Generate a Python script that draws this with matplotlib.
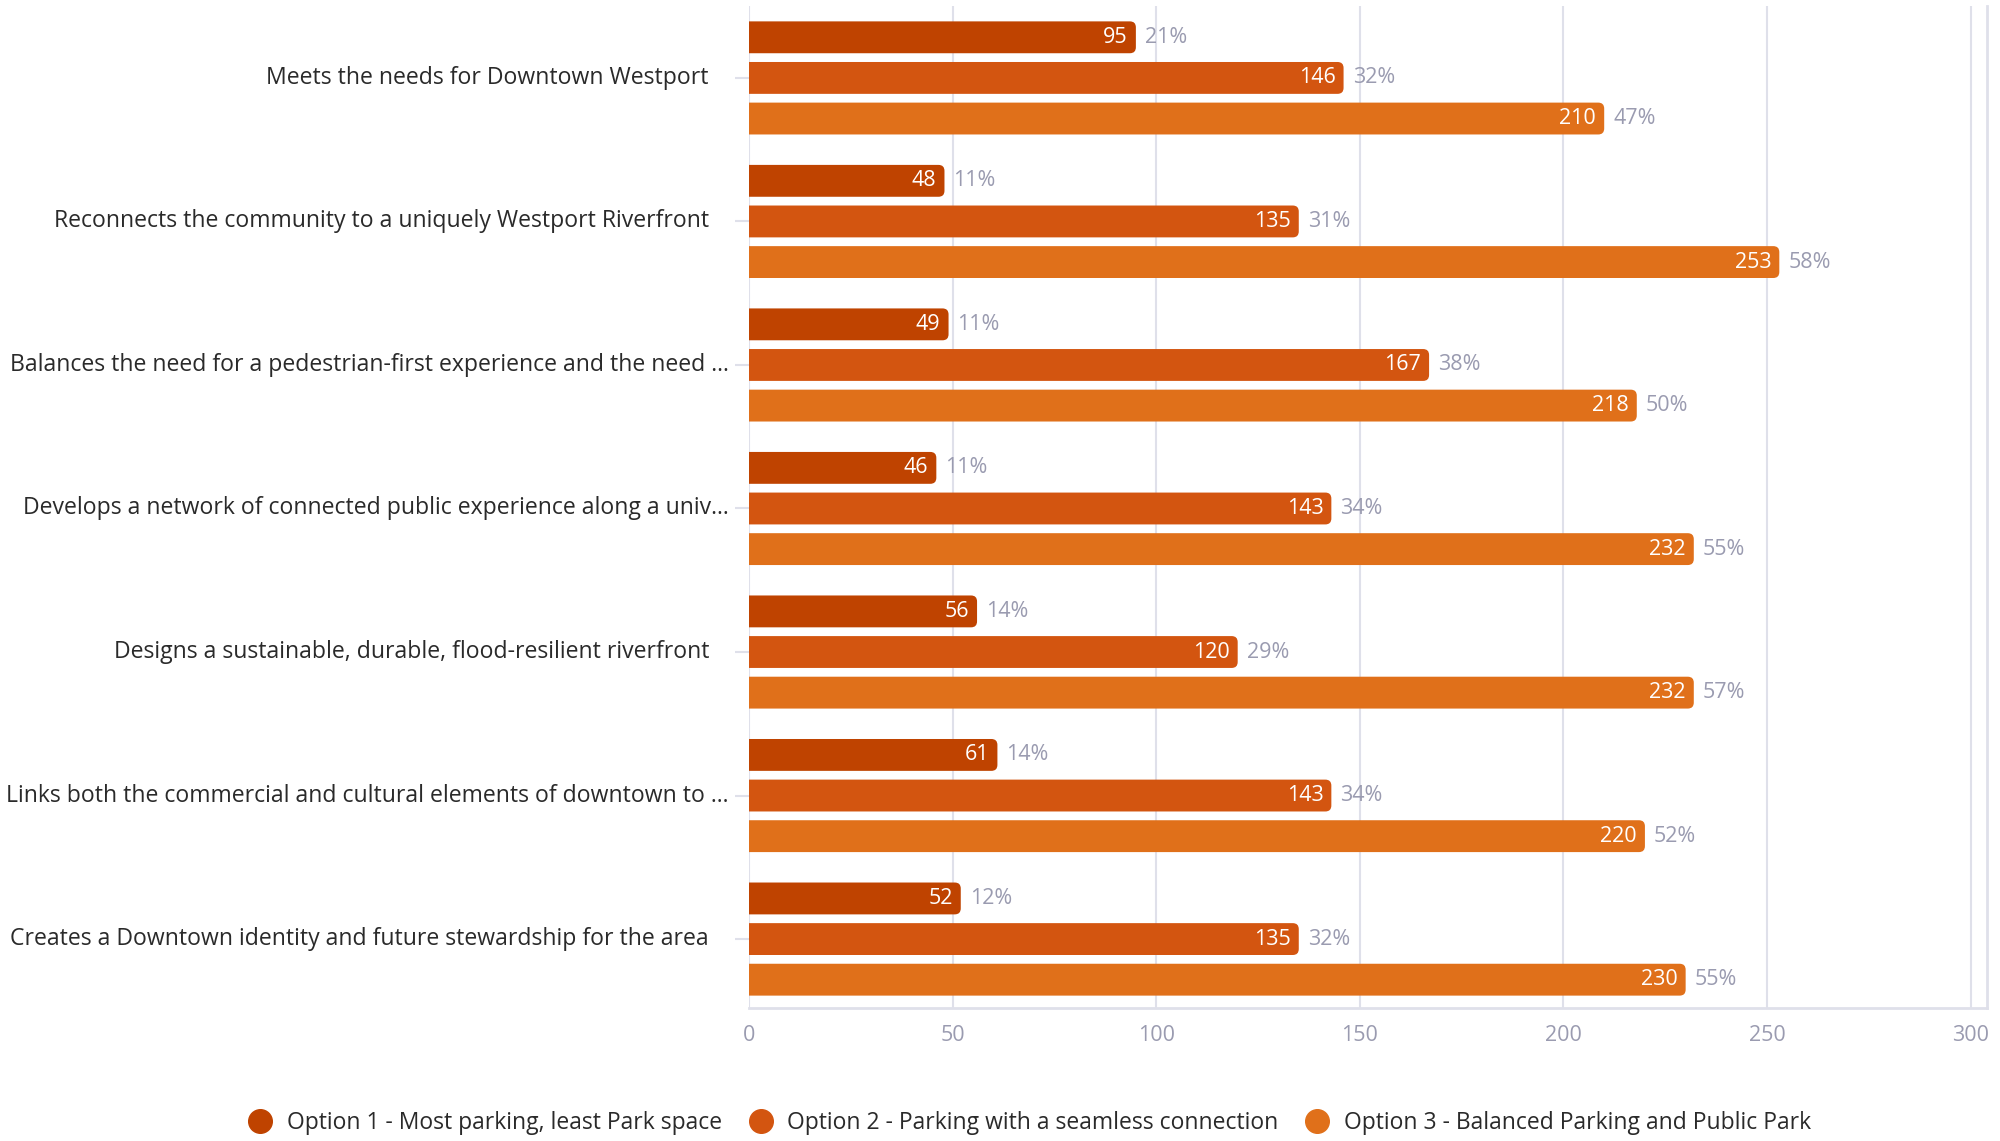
import matplotlib
matplotlib.use("Agg")
import matplotlib.pyplot as plt
from matplotlib.patches import FancyBboxPatch
from matplotlib.lines import Line2D
import numpy as np

categories = [
    "Meets the needs for Downtown Westport",
    "Reconnects the community to a uniquely Westport Riverfront",
    "Balances the need for a pedestrian-first experience and the need ...",
    "Develops a network of connected public experience along a univ...",
    "Designs a sustainable, durable, flood-resilient riverfront",
    "Links both the commercial and cultural elements of downtown to ...",
    "Creates a Downtown identity and future stewardship for the area",
]
series_names = [
    "Option 1 - Most parking, least Park space",
    "Option 2 - Parking with a seamless connection",
    "Option 3 - Balanced Parking and Public Park",
]
opt1 = [95, 48, 49, 46, 56, 61, 52]
opt2 = [146, 135, 167, 143, 120, 143, 135]
opt3 = [210, 253, 218, 232, 232, 220, 230]
pct1 = [21, 11, 11, 11, 14, 14, 12]
pct2 = [32, 31, 38, 34, 29, 34, 32]
pct3 = [47, 58, 50, 55, 57, 52, 55]
xticks = [0, 50, 100, 150, 200, 250, 300]

colors = ["#BF4300", "#D35510", "#E0701A"]
grid_c = "#DFE0EA"
tick_c = "#9A9BB0"
pct_c = "#9A9BB0"
text_c = "#2A2A2A"
FONT = "Open Sans"
plt.rcParams["font.family"] = [FONT, "DejaVu Sans"]

fig = plt.figure(figsize=(20, 11.41), dpi=100)
ax = fig.add_axes([0.3745, 0.1166, 0.619, 0.878])

values = [opt1, opt2, opt3]
pcts = [pct1, pct2, pct3]
y = np.arange(len(categories))
pitch = 0.283
h = 0.222

# pixel scales for rounding
px_per_x = 1238.5 / 304.0
px_per_y = 1001.8 / 6.98
radius_px = 6

for k in range(3):
    bars = ax.barh(y + (k - 1) * pitch, values[k], height=h, color=colors[k], zorder=3)
    for b, v, p in zip(bars, values[k], pcts[k]):
        b.set_visible(False)
        x0, y0, w, hh = b.get_x(), b.get_y(), b.get_width(), b.get_height()
        r = radius_px / px_per_x
        patch = FancyBboxPatch((x0 - 3 * r, y0), w + 3 * r, hh,
                               boxstyle=f"round,pad=0,rounding_size={r}",
                               mutation_aspect=px_per_x / px_per_y,
                               facecolor=colors[k], edgecolor="none", zorder=3)
        ax.add_patch(patch)
        yc = y0 + hh / 2
        ax.annotate(str(v), (w, yc), xytext=(-8, 0), textcoords="offset pixels",
                    ha="right", va="center", color="white", fontsize=15.5, zorder=4)
        ax.annotate(f"{p}%", (w, yc), xytext=(9, 0), textcoords="offset pixels",
                    ha="left", va="center", color=pct_c, fontsize=15.5, zorder=4)

ax.set_xlim(0, 304)
ax.set_ylim(6.48, -0.5)
ax.set_xticks(xticks)
ax.set_xticklabels([str(t) for t in xticks])
ax.tick_params(axis="x", length=0, pad=12, labelsize=15.5, labelcolor=tick_c)
ax.set_yticks(y)
ax.set_yticklabels([])
ax.tick_params(axis="y", length=10, width=1.5, color=grid_c, pad=0)
ax.grid(axis="x", color=grid_c, linewidth=1.5, zorder=0)
ax.set_axisbelow(True)
for s in ["top", "left"]:
    ax.spines[s].set_visible(False)
for s in ["bottom", "right"]:
    ax.spines[s].set_color(grid_c)
    ax.spines[s].set_linewidth(2)

# category labels
for i, c in enumerate(categories):
    off = -20 if c.endswith("...") else -40
    ax.annotate(c, (0, i), xycoords=("axes fraction", "data"),
                xytext=(off, 0), textcoords="offset pixels",
                ha="right", va="center", color=text_c, fontsize=16.6)

handles = [Line2D([0], [0], marker="o", linestyle="none", markersize=17,
                  markerfacecolor=colors[k], markeredgecolor=colors[k]) for k in range(3)]
fig.legend(handles, series_names, loc="lower center", bbox_to_anchor=(0.512, -0.013),
           ncol=3, frameon=False, fontsize=16.5, handletextpad=0.15, columnspacing=0.7,
           labelcolor=text_c)

fig.savefig("out.png", dpi=100)
